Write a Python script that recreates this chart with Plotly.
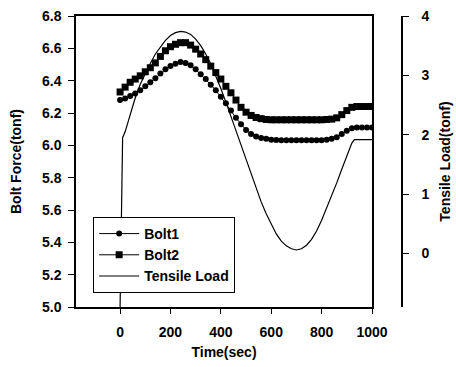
import plotly.graph_objects as go

time = list(range(0, 1001, 20))
bolt1 = [6.28, 6.29, 6.305, 6.32, 6.34, 6.365, 6.39, 6.415, 6.445, 6.47,
         6.49, 6.505, 6.515, 6.51, 6.495, 6.47, 6.44, 6.41, 6.375, 6.34,
         6.30, 6.26, 6.215, 6.17, 6.13, 6.095, 6.07, 6.055, 6.045, 6.04,
         6.035, 6.033, 6.032, 6.032, 6.031, 6.031, 6.031, 6.031, 6.031, 6.032,
         6.032, 6.034, 6.04, 6.05, 6.07, 6.09, 6.105, 6.11, 6.11, 6.11, 6.11]
bolt2 = [6.33, 6.36, 6.39, 6.41, 6.43, 6.455, 6.48, 6.51, 6.55, 6.585,
         6.61, 6.625, 6.635, 6.635, 6.62, 6.595, 6.565, 6.53, 6.49, 6.45,
         6.41, 6.365, 6.325, 6.28, 6.235, 6.205, 6.185, 6.172, 6.165, 6.16,
         6.158, 6.158, 6.158, 6.158, 6.158, 6.158, 6.158, 6.158, 6.158, 6.158,
         6.158, 6.16, 6.162, 6.17, 6.19, 6.215, 6.235, 6.24, 6.24, 6.24, 6.24]

load_time = [0, 10, 20, 40, 60, 80, 100, 120, 140, 160, 180, 200, 220, 240, 260,
             280, 300, 320, 340, 360, 380, 400, 420, 440, 460, 480, 500, 520, 540,
             560, 580, 600, 620, 640, 660, 680, 700, 720, 740, 760, 780, 800, 820,
             840, 860, 880, 900, 920, 930, 940, 960, 980, 1000]
load = [-0.9, 1.95, 2.05, 2.35, 2.62, 2.85, 3.03, 3.2, 3.36, 3.48, 3.59, 3.67, 3.72,
        3.74, 3.73, 3.69, 3.61, 3.50, 3.36, 3.19, 3.00, 2.78, 2.55, 2.31, 2.06, 1.80,
        1.56, 1.32, 1.09, 0.87, 0.67, 0.49, 0.33, 0.21, 0.13, 0.08, 0.06, 0.08, 0.14,
        0.24, 0.38, 0.56, 0.76, 0.97, 1.19, 1.42, 1.65, 1.86, 1.92, 1.92, 1.92, 1.92, 1.92]

x_ticks = [0, 200, 400, 600, 800, 1000]
left_ticks = [5.0, 5.2, 5.4, 5.6, 5.8, 6.0, 6.2, 6.4, 6.6, 6.8]
right_ticks = [0, 1, 2, 3, 4]

FONT = "Liberation Sans, Arial, sans-serif"
fnt = dict(family=FONT, size=14, color="black", weight="bold")

fig = go.Figure()
fig.add_trace(go.Scatter(x=time, y=bolt1, name="Bolt1", mode="lines+markers",
                         line=dict(color="black", width=1),
                         marker=dict(symbol="circle", size=6, color="black")))
fig.add_trace(go.Scatter(x=time, y=bolt2, name="Bolt2", mode="lines+markers",
                         line=dict(color="black", width=1),
                         marker=dict(symbol="square", size=7, color="black")))
fig.add_trace(go.Scatter(x=load_time, y=load, name="Tensile Load", mode="lines",
                         line=dict(color="black", width=1.2), yaxis="y2"))

fig.update_layout(
    width=456, height=367,
    margin=dict(l=76, r=54, t=16, b=60),
    paper_bgcolor="white", plot_bgcolor="white",
    font=fnt,
    showlegend=True,
    legend=dict(x=0.052, y=0.31, xanchor="left", yanchor="top",
                bordercolor="black", borderwidth=1.2, bgcolor="white",
                font=fnt, tracegroupgap=0, itemwidth=40),
    xaxis=dict(domain=[0, 0.908], range=[-175, 1000], tickvals=x_ticks,
               showline=True, linecolor="black", linewidth=1.5, mirror=True,
               ticks="outside", ticklen=5, tickcolor="black", showgrid=False,
               zeroline=False, tickfont=fnt, ticklabelstandoff=6, automargin=False,
               title=dict(text="Time(sec)", font=fnt, standoff=9)),
    yaxis=dict(range=[5.0, 6.8], tickvals=left_ticks, tickformat=".1f",
               showline=True, linecolor="black", linewidth=1.5, mirror=True,
               ticks="outside", ticklen=6, tickcolor="black", showgrid=False,
               zeroline=False, tickfont=fnt, ticklabelstandoff=4, automargin=False,
               title=dict(text="Bolt Force(tonf)", font=fnt, standoff=17)),
    yaxis2=dict(range=[-0.9, 4.0], tickvals=right_ticks, overlaying="y",
                side="right", anchor="free", position=1.0,
                showline=True, linecolor="black", linewidth=1.5,
                ticks="outside", ticklen=6, tickcolor="black", showgrid=False,
                zeroline=False, tickfont=fnt, ticklabelstandoff=10, automargin=False,
                title=dict(text="Tensile Load(tonf)", font=fnt, standoff=11)),
)

fig.write_html("out.html")
